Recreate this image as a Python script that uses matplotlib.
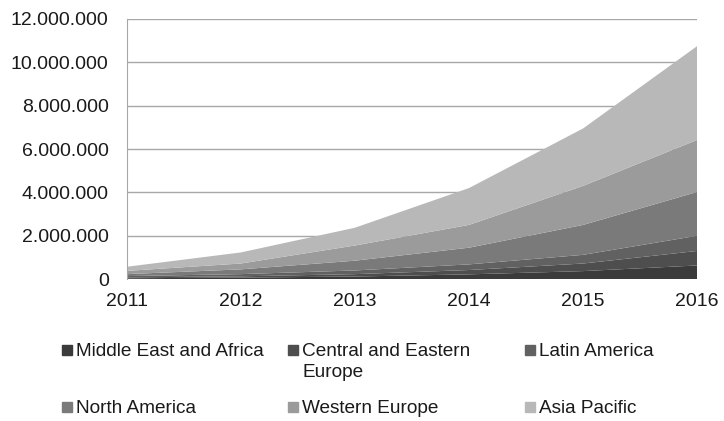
import matplotlib.pyplot as plt
from matplotlib.patches import Rectangle
from matplotlib.ticker import FuncFormatter

plt.rcParams['font.family'] = ['Liberation Sans', 'DejaVu Sans']

years = [2011, 2012, 2013, 2014, 2015, 2016]

regions = [
    "Middle East and Africa",
    "Central and Eastern\nEurope",
    "Latin America",
    "North America",
    "Western Europe",
    "Asia Pacific",
]

middle_east_africa = [40000, 70000, 120000, 220000, 370000, 630000]
central_eastern_europe = [40000, 60000, 110000, 200000, 350000, 670000]
latin_america = [60000, 100000, 170000, 260000, 400000, 700000]
north_america = [90000, 220000, 450000, 770000, 1380000, 2020000]
western_europe = [150000, 270000, 700000, 1050000, 1800000, 2400000]
asia_pacific = [190000, 510000, 820000, 1700000, 2650000, 4330000]

series = [middle_east_africa, central_eastern_europe, latin_america,
          north_america, western_europe, asia_pacific]

colors = ["#3b3b3b", "#4e4e4e", "#616161", "#7a7a7a", "#9b9b9b", "#b8b8b8"]

fig = plt.figure(figsize=(7.24, 4.21), dpi=100)
ax = fig.add_axes([0.175, 0.337, 0.788, 0.618])

ax.stackplot(years, *series, colors=colors, edgecolor="none")

ax.set_xlim(2011, 2016)
ax.set_ylim(0, 12000000)
ax.set_yticks(range(0, 12000001, 2000000))
ax.set_xticks(years)
ax.yaxis.set_major_formatter(
    FuncFormatter(lambda v, p: f"{int(v):,}".replace(",", "."))
)
ax.grid(axis="y", color="#a8a8a8", linewidth=1)
ax.set_axisbelow(True)

for side in ["top", "right", "bottom"]:
    ax.spines[side].set_visible(False)
ax.spines["left"].set_color("#a8a8a8")

ax.tick_params(axis="both", length=0, labelsize=14, colors="#1a1a1a")
ax.tick_params(axis="y", pad=13)
ax.tick_params(axis="x", pad=10)

# legend, three per row
legend_x = [62, 288, 525]
legend_y = [350, 407]
for i, (name, color) in enumerate(zip(regions, colors)):
    px = legend_x[i % 3] / 724
    py = 1 - legend_y[i // 3] / 421
    fig.patches.append(Rectangle((px, py - 0.012), 10 / 724, 10 / 421,
                                 transform=fig.transFigure, color=color))
    fig.text(px + 14 / 724, py + 0.016, name, fontsize=13.7, va="top",
             ha="left", color="#1a1a1a", linespacing=1.3)

plt.savefig("out.png", dpi=100)
